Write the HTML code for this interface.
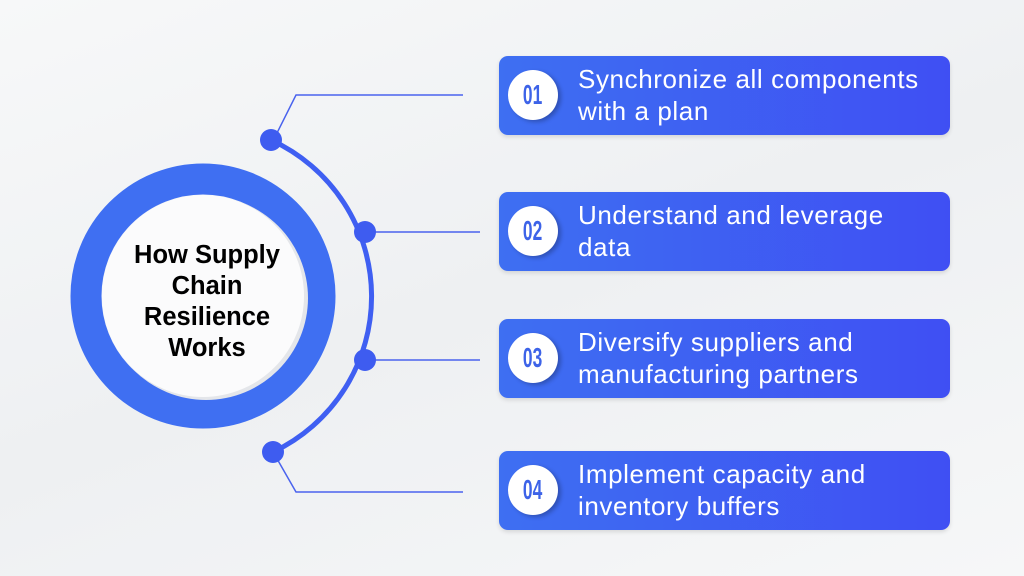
<!DOCTYPE html>
<html><head><style>
body{margin:0;width:1024px;height:576px;overflow:hidden;background:linear-gradient(160deg,#f7f8f9,#eef0f2 50%,#f6f7f8);font-family:"Liberation Sans",sans-serif;position:relative}
.box{position:absolute;left:499px;width:451px;height:79px;border-radius:9px;background:linear-gradient(90deg,#3e6ff2,#3f4ff3);box-shadow:0 2px 4px rgba(0,0,0,.12)}
.num{position:absolute;left:9px;top:14px;width:50px;height:50px;border-radius:50%;background:#fff;box-shadow:3px 2px 4px rgba(0,0,0,.25);color:#3d63e8;font-weight:bold;font-size:28px;line-height:50px;text-align:center}
.num span{display:inline-block;transform:scaleX(.62)}
.t{position:absolute;left:79px;top:7px;color:#fff;font-size:26px;letter-spacing:0.6px;line-height:32px;white-space:nowrap}
</style></head><body>
<svg width="1024" height="576" style="position:absolute;left:0;top:0">
<circle cx="203" cy="296" r="117" fill="none" stroke="#3f6ff2" stroke-width="31"/>
<circle cx="206" cy="298" r="102" fill="#e4e6ea"/>
<circle cx="203" cy="296" r="101" fill="#fbfbfc"/>
<path d="M271 140 A172 172 0 0 1 273 452" fill="none" stroke="#3f5ff2" stroke-width="5"/>
<g stroke="#4a63ee" stroke-width="1.5" fill="none">
<polyline points="276,135 296,95 463,95"/>
<polyline points="365,232 480,232"/>
<polyline points="365,360 480,360"/>
<polyline points="276,457 296,492 463,492"/>
</g>
<g fill="#3e5cf0">
<circle cx="271" cy="140" r="11"/><circle cx="365" cy="232" r="11"/><circle cx="365" cy="360" r="11"/><circle cx="273" cy="452" r="11"/>
</g>
<g font-family="Liberation Sans" font-weight="bold" font-size="25.5" text-anchor="middle">
<text x="207" y="263">How Supply</text>
<text x="207" y="294">Chain</text>
<text x="207" y="325">Resilience</text>
<text x="207" y="356">Works</text>
</g>
</svg>
<div class="box" style="top:56px"><div class="num"><span>01</span></div><div class="t">Synchronize all components<br>with a plan</div></div>
<div class="box" style="top:192px"><div class="num"><span>02</span></div><div class="t">Understand and leverage<br>data</div></div>
<div class="box" style="top:319px"><div class="num"><span>03</span></div><div class="t">Diversify suppliers and<br>manufacturing partners</div></div>
<div class="box" style="top:451px"><div class="num"><span>04</span></div><div class="t">Implement capacity and<br>inventory buffers</div></div>
</body></html>
